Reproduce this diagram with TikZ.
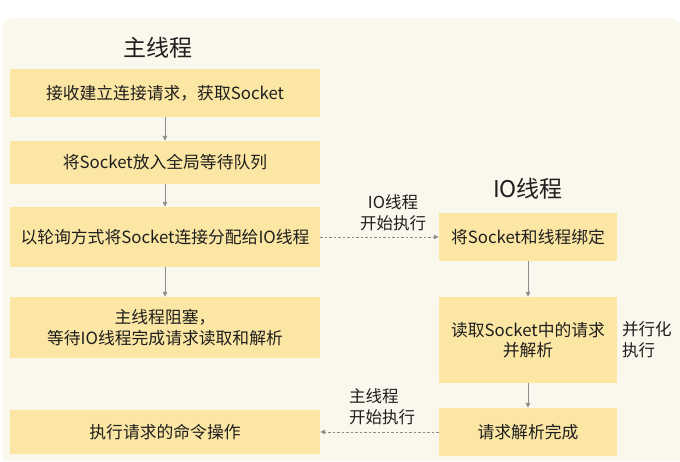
\documentclass[tikz,border=0pt]{standalone}
\usepackage{fontspec}
\setmainfont{Noto Sans CJK SC}
\usetikzlibrary{arrows.meta}
\definecolor{bgc}{HTML}{FAF7EC}
\definecolor{boxc}{HTML}{FBE6A3}
\definecolor{linec}{HTML}{8C8C8C}
\definecolor{txtc}{HTML}{1E1E1E}
\begin{document}
\begin{tikzpicture}[x=1pt,y=-1pt,
  stepbox/.style={fill=boxc,draw=none,inner sep=0pt,align=center,text=txtc,
     font=\fontsize{16.8}{20.5}\selectfont},
  lbox/.style={stepbox,minimum width=310pt},
  rbox/.style={stepbox,minimum width=178pt},
  title/.style={text=txtc,font=\fontsize{23}{27}\selectfont,inner sep=0pt},
  lab/.style={text=txtc,font=\fontsize{16.5}{21}\selectfont,inner sep=0pt},
  flow/.style={draw=linec,line width=0.9pt,-{Triangle[length=5pt,width=4.5pt]}},
  dflow/.style={draw=linec,line width=0.9pt,dash pattern=on 2.5pt off 2pt,-{Triangle[length=5pt,width=4.5pt]}}]
\useasboundingbox (0,0) rectangle (680,461);
\fill[bgc] (3,461) {[rounded corners=9pt] -- (3,18) -- (680,18)} -- (680,461) -- cycle;

\node[title] (tmain) at (158,48) {主线程};
\node[title] (tio) at (528,189) {IO线程};

\node[lbox,minimum height=48pt] (a1) at (165,93) {接收建立连接请求，获取Socket};
\node[lbox,minimum height=43pt] (a2) at (165,162.5) {将Socket放入全局等待队列};
\node[lbox,minimum height=60pt] (a3) at (165,237) {以轮询方式将Socket连接分配给IO线程};
\node[lbox,minimum height=61pt] (a4) at (165,327.5) {主线程阻塞，\\等待IO线程完成请求读取和解析};
\node[lbox,minimum height=44pt] (a5) at (165,432) {执行请求的命令操作};

\node[rbox,minimum height=48pt] (b1) at (528,237) {将Socket和线程绑定};
\node[rbox,minimum height=86pt] (b2) at (528,340) {读取Socket中的请求\\并解析};
\node[rbox,minimum height=48pt] (b3) at (528,432) {请求解析完成};

\draw[flow] (a1) -- (a2);
\draw[flow] (a2) -- (a3);
\draw[flow] (a3) -- (a4);
\draw[flow] (b1) -- (b2);
\draw[flow] (b2) -- (b3);

\draw[dflow] (a3) -- (b1);
\draw[dflow] (b3) -- (a5);

\node[lab,align=center] (l1) at (393,213) {IO线程\\开始执行};
\node[lab,align=left,anchor=west] (l2) at (349,407) {主线程\\开始执行};
\node[lab,align=left,anchor=west] (l3) at (622,340) {并行化\\执行};
\end{tikzpicture}
\end{document}
